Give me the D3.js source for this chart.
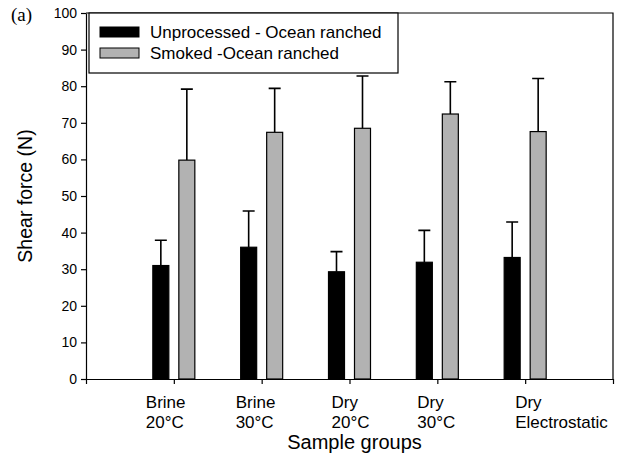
<!DOCTYPE html>
<html>
<head>
<meta charset="utf-8">
<script src="https://cdn.jsdelivr.net/npm/d3@7"></script>
<style>
  body { margin: 0; background: #fff; }
  svg { display: block; font-family: "Liberation Sans", Arial, sans-serif; }
</style>
</head>
<body>
<div id="chart"></div>
<script>
// Data
const groups = [["Brine", "20°C"], ["Brine", "30°C"], ["Dry", "20°C"], ["Dry", "30°C"], ["Dry", "Electrostatic"]];
const seriesNames = ["Unprocessed - Ocean ranched", "Smoked -Ocean ranched"];
const unprocessed = [31.0, 36.0, 29.3, 31.9, 33.2];
const unprocessedErr = [6.9, 9.9, 5.5, 8.7, 9.7];
const smoked = [59.8, 67.4, 68.5, 72.4, 67.6];
const smokedErr = [19.4, 12.0, 14.3, 8.8, 14.5];
const yTicks = [0, 10, 20, 30, 40, 50, 60, 70, 80, 90, 100];

const colors = ["#000000", "#b2b2b2"];

const W = 625, H = 459;
const margin = { top: 13, right: 12, bottom: 80, left: 86 };
const width = W - margin.left - margin.right;
const height = H - margin.top - margin.bottom;

const svg = d3.select("#chart").append("svg")
    .attr("width", W)
    .attr("height", H);

const g = svg.append("g")
    .attr("transform", `translate(${margin.left},${margin.top})`);

// x is a linear axis 0..6, groups sit at 1..5
const x = d3.scaleLinear().domain([0, groups.length + 1]).range([0, width]);
const y = d3.scaleLinear().domain([0, 100]).range([height, 0]);

const barW = 16, barGap = 10;
const offsets = [-(barGap / 2 + barW / 2), barGap / 2 + barW / 2];

const series = [
    { name: seriesNames[0], values: unprocessed, errs: unprocessedErr },
    { name: seriesNames[1], values: smoked, errs: smokedErr }
];

// frame (top + right)
g.append("path")
    .attr("d", `M0,0H${width}V${height}`)
    .attr("fill", "none")
    .attr("stroke", "#000")
    .attr("stroke-width", 1.2);

series.forEach((s, si) => {
    const sg = g.append("g");
    // error bars (upper only)
    sg.selectAll(".err")
        .data(s.values)
        .enter().append("path")
        .attr("d", (d, i) => {
            const cx = x(i + 1) + offsets[si];
            return `M${cx},${y(d)}V${y(d + s.errs[i])}M${cx - 6},${y(d + s.errs[i])}H${cx + 6}`;
        })
        .attr("stroke", "#000")
        .attr("stroke-width", 1.6)
        .attr("fill", "none");
    sg.selectAll(".bar")
        .data(s.values)
        .enter().append("rect")
        .attr("x", (d, i) => x(i + 1) + offsets[si] - barW / 2)
        .attr("y", d => y(d))
        .attr("width", barW)
        .attr("height", d => height - y(d))
        .attr("fill", colors[si])
        .attr("stroke", "#000")
        .attr("stroke-width", 1.2);
});

// axes
const yAxis = g.append("g")
    .call(d3.axisLeft(y).tickValues(yTicks).tickSize(5).tickSizeOuter(0));
const xAxis = g.append("g")
    .attr("transform", `translate(0,${height})`)
    .call(d3.axisBottom(x).ticks(groups.length + 1).tickSize(5).tickSizeOuter(0).tickFormat(""));

[yAxis, xAxis].forEach(a => {
    a.select(".domain").attr("stroke", "#000").attr("stroke-width", 1.2);
    a.selectAll(".tick line").attr("stroke", "#000").attr("stroke-width", 1.2);
});
yAxis.selectAll(".tick text")
    .attr("font-size", 14)
    .attr("font-family", "Liberation Sans, Arial, sans-serif")
    .attr("fill", "#000")
    .attr("x", -9);

// category labels, two left-aligned lines
const labelShift = [-28, -26, -18, -20, -10];
const cat = g.append("g");
groups.forEach((lines, i) => {
    const t = cat.append("text")
        .attr("font-size", 17)
        .attr("fill", "#000");
    lines.forEach((line, li) => {
        t.append("tspan")
            .attr("x", x(i + 1) + labelShift[i])
            .attr("y", height + 29 + li * 20)
            .text(line);
    });
});

// axis titles
g.append("text")
    .attr("x", (x(3)) + 5)
    .attr("y", height + 70)
    .attr("text-anchor", "middle")
    .attr("font-size", 20)
    .text("Sample groups");

svg.append("text")
    .attr("transform", `translate(32,${margin.top + y(50)}) rotate(-90)`)
    .attr("text-anchor", "middle")
    .attr("font-size", 19.5)
    .text("Shear force (N)");

// panel label
svg.append("text")
    .attr("x", 11)
    .attr("y", 21)
    .attr("font-family", "Liberation Serif, Times New Roman, serif")
    .attr("font-size", 19)
    .text("(a)");

// legend
const legend = g.append("g").attr("transform", "translate(3,0)");
legend.append("rect")
    .attr("width", 309)
    .attr("height", 60)
    .attr("fill", "#fff")
    .attr("stroke", "#000")
    .attr("stroke-width", 1.2);
series.forEach((s, si) => {
    const row = legend.append("g").attr("transform", `translate(11,${14 + si * 21})`);
    row.append("rect")
        .attr("width", 39)
        .attr("height", 10)
        .attr("fill", colors[si])
        .attr("stroke", "#000")
        .attr("stroke-width", 1);
    row.append("text")
        .attr("x", 50)
        .attr("y", 11)
        .attr("font-size", 17)
        .text(s.name);
});
</script>
</body>
</html>
